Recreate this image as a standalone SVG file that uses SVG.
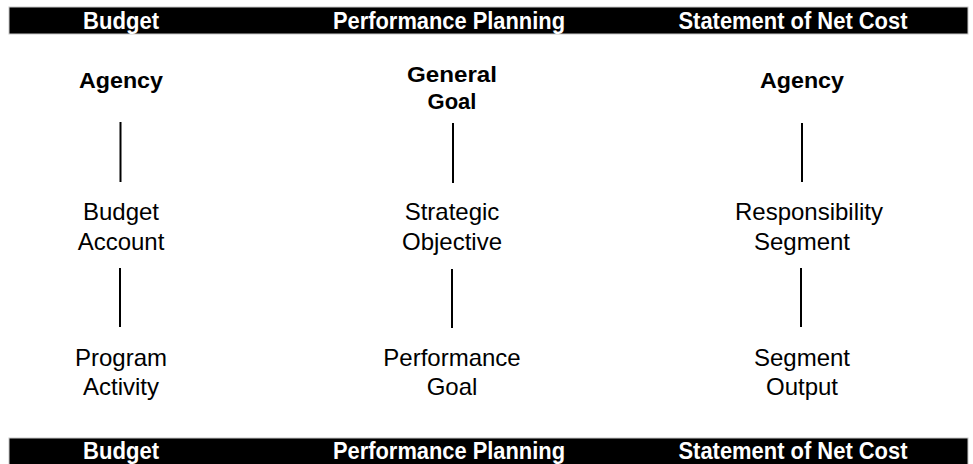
<svg xmlns="http://www.w3.org/2000/svg" width="973" height="464" viewBox="0 0 973 464">
<style>
.bar{fill:#000;stroke:#c8c8c8;stroke-width:1}
.hd{font-family:"Liberation Sans",Arial,sans-serif;font-weight:bold;font-size:24px;fill:#fff;text-anchor:middle}
.bt{font-family:"Liberation Sans",Arial,sans-serif;font-weight:bold;font-size:22px;fill:#000;text-anchor:middle}
.rt{font-family:"Liberation Sans",Arial,sans-serif;font-size:24px;fill:#000;text-anchor:middle}
.ln{stroke:#000;stroke-width:2;fill:none}
</style>
<rect width="973" height="464" fill="#fff"/>
<g id="header-top">
<rect class="bar" x="9" y="7" width="959" height="27"/>
<text class="hd" x="121" y="29" textLength="76" lengthAdjust="spacingAndGlyphs">Budget</text>
<text class="hd" x="449" y="29" textLength="232" lengthAdjust="spacingAndGlyphs">Performance Planning</text>
<text class="hd" x="793" y="29" textLength="229" lengthAdjust="spacingAndGlyphs">Statement of Net Cost</text>
</g>
<g id="header-bottom">
<rect class="bar" x="9" y="438" width="959" height="30"/>
<text class="hd" x="121" y="459" textLength="76" lengthAdjust="spacingAndGlyphs">Budget</text>
<text class="hd" x="449" y="459" textLength="232" lengthAdjust="spacingAndGlyphs">Performance Planning</text>
<text class="hd" x="793" y="459" textLength="229" lengthAdjust="spacingAndGlyphs">Statement of Net Cost</text>
</g>
<g id="connectors">
<line class="ln" x1="120.5" y1="122" x2="120.5" y2="182"/>
<line class="ln" x1="120" y1="268" x2="120" y2="327"/>
<line class="ln" x1="453" y1="123" x2="453" y2="183"/>
<line class="ln" x1="452" y1="269" x2="452" y2="328"/>
<line class="ln" x1="802" y1="123" x2="802" y2="182"/>
<line class="ln" x1="801" y1="268" x2="801" y2="327"/>
</g>
<g id="agency-budget"><text class="bt" x="121" y="88" textLength="84" lengthAdjust="spacingAndGlyphs">Agency</text></g>
<g id="general-goal"><text class="bt" x="452" y="82" textLength="90" lengthAdjust="spacingAndGlyphs">General</text><text class="bt" x="452" y="109">Goal</text></g>
<g id="agency-cost"><text class="bt" x="802" y="88" textLength="84" lengthAdjust="spacingAndGlyphs">Agency</text></g>
<g id="budget-account"><text class="rt" x="121" y="220">Budget</text><text class="rt" x="121" y="250">Account</text></g>
<g id="strategic-objective"><text class="rt" x="452" y="220">Strategic</text><text class="rt" x="452" y="250">Objective</text></g>
<g id="responsibility-segment"><text class="rt" x="809" y="220">Responsibility</text><text class="rt" x="802" y="250">Segment</text></g>
<g id="program-activity"><text class="rt" x="121" y="366">Program</text><text class="rt" x="121" y="395">Activity</text></g>
<g id="performance-goal"><text class="rt" x="452" y="366">Performance</text><text class="rt" x="452" y="395">Goal</text></g>
<g id="segment-output"><text class="rt" x="802" y="366">Segment</text><text class="rt" x="802" y="395">Output</text></g>
</svg>
